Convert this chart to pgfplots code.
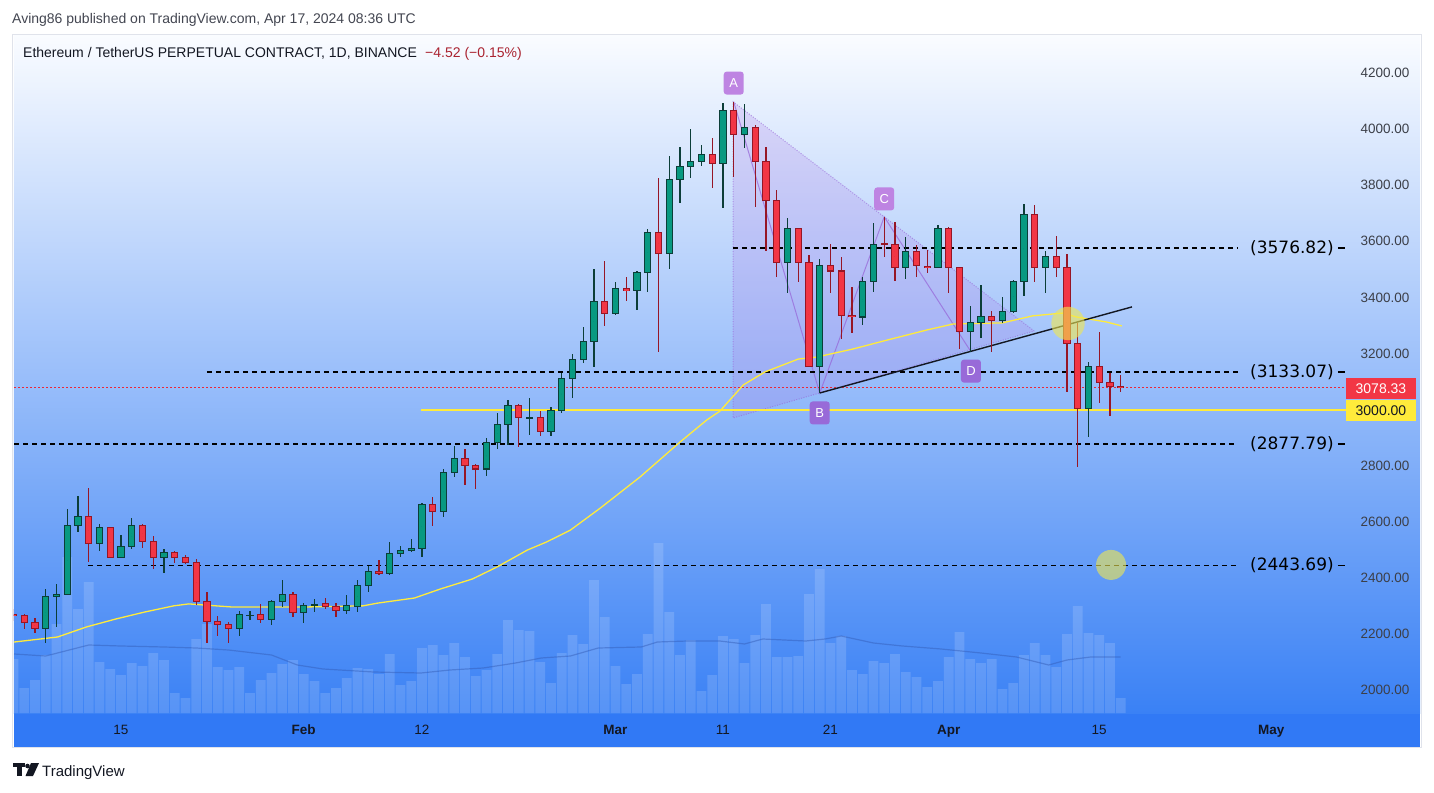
\documentclass[border=0pt]{standalone}
\usepackage{pgfplots}
\pgfplotsset{compat=1.18}
\usepackage{pgfplotstable}
\usepackage{fontspec}
\setmainfont{Liberation Sans}
\newfontfamily\dejavu{DejaVu Sans}
\pgfdeclarelayer{background}
\pgfsetlayers{background,main}

\definecolor{gfill}{RGB}{8,153,129}
\definecolor{gline}{RGB}{12,62,56}
\definecolor{rfill}{RGB}{242,54,69}
\definecolor{rline}{RGB}{150,22,38}
\definecolor{bgtop}{RGB}{250,252,255}
\definecolor{bgbot}{RGB}{58,129,245}
\definecolor{band}{RGB}{49,121,245}
\definecolor{maY}{RGB}{255,235,59}
\definecolor{tvtext}{RGB}{19,23,34}
\definecolor{tickc}{RGB}{60,63,72}
\definecolor{purA}{RGB}{190,132,226}
\definecolor{purB}{RGB}{152,106,216}
\definecolor{purL}{RGB}{150,100,215}
\definecolor{purF}{RGB}{170,120,230}
\definecolor{vma}{RGB}{50,90,180}
\definecolor{chg}{RGB}{170,35,48}
\definecolor{hdr}{RGB}{67,70,81}
\definecolor{circY}{RGB}{240,232,80}
\definecolor{framec}{RGB}{224,227,235}
\definecolor{dotred}{RGB}{235,40,55}

% day index: 1 Jan 2024 = 0 ; rising candles
\pgfplotstableread{
d o h l c
7 2221 2360 2168 2332
8 2332 2378 2225 2342
9 2342 2645 2340 2585
10 2585 2692 2563 2617
12 2521 2592 2496 2578
14 2474 2553 2470 2510
15 2510 2613 2503 2585
18 2471 2503 2417 2492
25 2218 2282 2193 2268
26 2266 2282 2250 2267
28 2253 2321 2232 2317
29 2314 2392 2296 2342
31 2278 2310 2239 2303
32 2302 2324 2278 2304
35 2285 2339 2271 2300
36 2296 2392 2278 2371
37 2371 2442 2349 2424
39 2417 2528 2410 2485
40 2485 2514 2474 2499
41 2499 2538 2492 2506
42 2506 2667 2474 2660
44 2638 2788 2617 2774
45 2774 2870 2760 2824
48 2788 2899 2763 2881
49 2881 2988 2859 2945
50 2945 3034 2874 3016
52 2969 3041 2909 2971
54 2923 3009 2906 2995
55 2995 3130 2988 3112
56 3112 3198 3041 3177
57 3177 3294 3166 3244
58 3244 3501 3152 3387
60 3341 3455 3338 3433
62 3423 3494 3355 3490
63 3490 3644 3419 3630
65 3555 3904 3501 3822
66 3822 3936 3736 3868
67 3868 4000 3826 3886
68 3886 3943 3868 3908
70 3879 4093 3719 4068
72 3982 4089 3933 4007
76 3523 3683 3416 3644
79 3155 3537 3059 3515
83 3330 3473 3301 3455
84 3455 3665 3419 3590
87 3505 3615 3465 3562
90 3508 3658 3506 3647
93 3280 3369 3205 3312
94 3312 3444 3255 3330
96 3319 3401 3309 3351
97 3351 3462 3344 3455
98 3455 3733 3405 3697
100 3508 3565 3416 3547
104 3005 3170 2902 3152
}\upc

% falling candles
\pgfplotstableread{
d o h l c
4 2268 2290 2245 2264
5 2264 2271 2218 2239
6 2239 2257 2203 2221
11 2617 2720 2456 2521
13 2578 2580 2472 2474
16 2585 2592 2506 2531
17 2531 2549 2431 2471
19 2492 2497 2453 2471
20 2471 2481 2450 2456
21 2456 2467 2303 2314
22 2314 2349 2168 2243
23 2243 2264 2193 2232
24 2235 2243 2168 2218
27 2268 2307 2239 2253
30 2342 2349 2260 2278
33 2307 2328 2289 2296
34 2296 2310 2260 2285
38 2424 2464 2410 2417
43 2660 2688 2585 2638
46 2824 2859 2731 2802
47 2802 2806 2717 2788
51 3016 3020 2866 2970
53 2970 2995 2906 2923
59 3387 3530 3298 3341
61 3430 3473 3387 3423
64 3630 3826 3205 3555
69 3908 3968 3790 3879
71 4068 4097 3829 3982
73 4007 4015 3722 3883
74 3883 3936 3565 3744
75 3744 3783 3473 3523
77 3644 3647 3455 3523
78 3523 3551 3152 3155
80 3515 3590 3416 3494
81 3494 3544 3252 3334
82 3337 3437 3273 3330
85 3591 3687 3544 3589
86 3587 3669 3458 3505
88 3562 3587 3473 3512
89 3510 3569 3487 3506
91 3647 3650 3416 3505
92 3505 3508 3216 3280
95 3330 3351 3205 3319
99 3697 3729 3455 3508
101 3547 3619 3473 3505
102 3505 3555 3063 3237
103 3237 3309 2795 3005
105 3152 3277 3023 3098
106 3098 3130 2977 3081
107 3083 3123 3063 3078.33
}\dnc

% volume (relative units)
\pgfplotstableread{
d v
4 54
5 25
6 33
7 58
8 89
9 156
10 104
11 131
12 51
13 44
14 38
15 50
16 47
17 60
18 53
19 20
20 15
21 74
22 89
23 46
24 43
25 46
26 20
27 33
28 40
29 49
30 53
31 39
32 32
33 20
34 25
35 35
36 45
37 44
38 39
39 59
40 28
41 32
42 65
43 68
44 58
45 70
46 56
47 37
48 43
49 59
50 93
51 83
52 82
53 51
54 30
55 60
56 78
57 69
58 133
59 96
60 47
61 29
62 39
63 79
64 170
65 101
66 58
67 73
68 22
69 38
70 77
71 74
72 50
73 78
74 109
75 56
76 56
77 57
78 119
79 144
80 70
81 77
82 43
83 39
84 52
85 50
86 59
87 41
88 36
89 26
90 32
91 56
92 81
93 54
94 50
95 54
96 24
97 30
98 58
99 70
100 58
101 46
102 79
103 107
104 80
105 78
106 70
107 15
}\vol

\pgfplotstableread{
d v
4.05 59
7 57
11 68
14 67
18 66
21 65
24 63
28 58
30.4 48
32.8 44
37.5 41
41.9 40
44.6 43
47.7 45
50.7 50
53.1 55
55.8 57
58.4 65
62.4 66
63.9 71
66.7 72
69.7 72
72 69
73.7 74
77.7 72
79.5 74
81 77
84 70
86.7 67
90.3 64
94 60
97.3 56
100.3 48
102 53
104.2 56
107 56
}\vma

\pgfplotstableread{
d p
4.05 2171
8.1 2189
10.8 2225
13.5 2253
16.2 2278
18.9 2300
20.3 2307
24.3 2296
31.1 2296
36.5 2300
37.9 2310
41.3 2328
43.7 2360
46.7 2396
49.0 2439
51.8 2499
53.6 2528
55.8 2570
58.6 2649
62.3 2760
66.0 2884
68.5 2963
69.7 2994
71.9 3088
73.9 3134
77.0 3180
78.7 3187
82.1 3216
85.3 3248
89.0 3284
91.4 3305
96.0 3309
98.8 3334
101.6 3344
102.9 3330
105.7 3312
107.1 3298
}\ma

\pgfplotsset{
  cndl/.style 2 args={only marks, mark=*, mark size=0pt, mark options={draw=none, fill=none},
    error bars/.cd, y dir=both, y explicit, error mark=none,
    error bar style={solid, draw=#1, line width=#2}},
}

\begin{document}
\begin{tikzpicture}[x=1pt,y=1pt]
\begin{axis}[
  scale only axis,
  width=1406pt, height=678pt,
  xmin=4.047, xmax=134.84, ymin=1918, ymax=4335.5,
  axis line style={draw=none}, major tick length=0pt,
  axis background/.style={shade, top color=bgtop, bottom color=bgbot},
  xtick={14,31,42,60,70,80,91,105,121},
  xticklabels={15,\textbf{Feb},12,\textbf{Mar},11,21,\textbf{Apr},15,\textbf{May}},
  xticklabel style={anchor=base, yshift=-21.5pt, font=\fontsize{13.5}{14}\selectfont, text=tvtext},
  ytick={2000,2200,2400,2600,2800,3200,3400,3600,3800,4000,4200},
  yticklabel pos=right,
  scaled y ticks=false,
  yticklabel style={anchor=east, xshift=-7pt, font=\fontsize{13.5}{14}\selectfont, text=tickc,
    /pgf/number format/fixed, /pgf/number format/fixed zerofill,
    /pgf/number format/precision=2, /pgf/number format/1000 sep={}},
  /pgf/number format/assume math mode=true,
]
\coordinate (O) at (rel axis cs:0,0);
% volume: bar heights in relative units, 1 unit = 3.5656 price units on this axis
\addplot[ybar, bar width=9.6pt, fill=white, fill opacity=0.15, draw=none] table[x=d, y expr={1918+3.5656*\thisrow{v}}]{\vol};
\addplot[vma, line width=1.2pt, opacity=0.45] table[x=d, y expr={1918+3.5656*\thisrow{v}}]{\vma};

% triangle pattern
\addplot[fill=purF, fill opacity=0.22, draw=none] coordinates {(70.95,4097) (70.95,2970) (98.95,3280)} -- cycle;
\addplot[purL, line width=1pt, dash pattern=on 1pt off 1.5pt, opacity=0.6] coordinates {(98.95,3280) (70.95,4097) (70.95,2970) (98.95,3280)};
\addplot[purL, line width=1pt, opacity=0.7] coordinates {(71,4097) (79,3059) (85,3687) (93,3210)};

% levels
\addplot[black, line width=1.5pt, dash pattern=on 5pt off 4pt] coordinates {(70.93,3576.82) (117.9,3576.82)};
\addplot[black, line width=1.5pt, dash pattern=on 5pt off 4pt] coordinates {(22.0,3133.07) (117.9,3133.07)};
\addplot[black, line width=1.5pt, dash pattern=on 5pt off 4pt] coordinates {(4.05,2877.79) (117.9,2877.79)};
\addplot[black, line width=1.5pt, dash pattern=on 5pt off 4pt] coordinates {(10.93,2443.69) (117.9,2443.69)};
\addplot[black, line width=1.5pt] coordinates {(127.2,3576.82) (127.9,3576.82)};
\addplot[black, line width=1.5pt] coordinates {(127.2,3133.07) (127.9,3133.07)};
\addplot[black, line width=1.5pt] coordinates {(127.2,2877.79) (127.9,2877.79)};
\addplot[black, line width=1.5pt] coordinates {(127.2,2443.69) (127.9,2443.69)};
\addplot[dotred, line width=1.2pt, dash pattern=on 2pt off 2pt] coordinates {(4.05,3078.33) (127.95,3078.33)};
\addplot[maY, line width=2pt] coordinates {(41.9,3000) (127.95,3000)};

% moving average
\addplot[maY, line width=1.3pt] table[x=d,y=p]{\ma};

% trend line
\addplot[tvtext, line width=1.4pt] coordinates {(79,3059) (108.05,3366)};

% candles: wicks
\addplot[cndl={gline}{1.2pt}] table[x=d, y expr={(\thisrow{h}+\thisrow{l})/2}, y error expr={(\thisrow{h}-\thisrow{l})/2}]{\upc};
\addplot[cndl={rline}{1.2pt}] table[x=d, y expr={(\thisrow{h}+\thisrow{l})/2}, y error expr={(\thisrow{h}-\thisrow{l})/2}]{\dnc};
% bodies: outline
\addplot[cndl={gline}{7.4pt}] table[x=d, y expr={(\thisrow{o}+\thisrow{c})/2}, y error expr={abs(\thisrow{c}-\thisrow{o})/2+1.8}]{\upc};
\addplot[cndl={rline}{7.4pt}] table[x=d, y expr={(\thisrow{o}+\thisrow{c})/2}, y error expr={abs(\thisrow{c}-\thisrow{o})/2+1.8}]{\dnc};
% bodies: fill
\addplot[cndl={gfill}{5.4pt}] table[x=d, y expr={(\thisrow{o}+\thisrow{c})/2}, y error expr={max(abs(\thisrow{c}-\thisrow{o})/2-1.8,0)}]{\upc};
\addplot[cndl={rfill}{5.4pt}] table[x=d, y expr={(\thisrow{o}+\thisrow{c})/2}, y error expr={max(abs(\thisrow{c}-\thisrow{o})/2-1.8,0)}]{\dnc};

% highlight circles
\fill[circY, opacity=0.6] (axis cs:102.1,3307) circle[radius=16.7pt];
\fill[circY, opacity=0.6] (axis cs:106.1,2446) circle[radius=15pt];

% pattern labels
\node[fill=purA, rounded corners=3pt, text=white, minimum width=20pt, minimum height=23pt, inner sep=0pt, font=\fontsize{13}{13}\selectfont] at (axis cs:71,4164) {A};
\node[fill=purB, rounded corners=3pt, text=white, minimum width=20pt, minimum height=23pt, inner sep=0pt, font=\fontsize{13}{13}\selectfont] at (axis cs:79,2988) {B};
\node[fill=purA, rounded corners=3pt, text=white, minimum width=20pt, minimum height=23pt, inner sep=0pt, font=\fontsize{13}{13}\selectfont] at (axis cs:85,3751) {C};
\node[fill=purB, rounded corners=3pt, text=white, minimum width=20pt, minimum height=23pt, inner sep=0pt, font=\fontsize{13}{13}\selectfont] at (axis cs:93.07,3137) {D};

% level labels
\node[font=\dejavu\fontsize{17}{17}\selectfont, text=black] at (axis cs:122.93,3576.82) {(3576.82)};
\node[font=\dejavu\fontsize{17}{17}\selectfont, text=black] at (axis cs:122.93,3133.07) {(3133.07)};
\node[font=\dejavu\fontsize{17}{17}\selectfont, text=black] at (axis cs:122.93,2877.79) {(2877.79)};
\node[font=\dejavu\fontsize{17}{17}\selectfont, text=black] at (axis cs:122.93,2443.69) {(2443.69)};

% price tags
\node[fill=rfill, text=white, minimum width=70pt, minimum height=21pt, inner sep=0pt, font=\fontsize{14}{14}\selectfont] at (axis cs:131.21,3075) {3078.33};
\node[fill=maY, text=tvtext, minimum width=70pt, minimum height=21pt, inner sep=0pt, font=\fontsize{14}{14}\selectfont] at (axis cs:131.21,2997) {3000.00};
\end{axis}

% everything else is placed from the axis' lower left corner (O), which is at (14,79) in page pixels
\begin{scope}[shift={(O)}, xshift=-14pt, yshift=-79pt]
\begin{pgfonlayer}{background}
\fill[white] (0,0) rectangle (1434,792);
\fill[band] (14,45) rectangle (1420,79);
\end{pgfonlayer}
% frame
\draw[framec, line width=1pt] (12.5,44.5) rectangle (1421.5,757.5);
% header
\node[anchor=base west, inner sep=0pt, font=\fontsize{14}{16}\selectfont, text=hdr] at (12,768) {Aving86 published on TradingView.com, Apr 17, 2024 08:36 UTC};
\node[anchor=base west, inner sep=0pt, font=\fontsize{14}{16}\selectfont, text=tvtext] at (23,734) {Ethereum / TetherUS PERPETUAL CONTRACT, 1D, BINANCE};
\node[anchor=base west, inner sep=0pt, font=\fontsize{14}{16}\selectfont, text=chg] at (425,734) {−4.52 (−0.15\%)};
% TradingView logo
\fill[tvtext] (13,25) rectangle (25,29);
\fill[tvtext] (17,16) rectangle (21.5,29);
\fill[tvtext] (27.5,26) circle[radius=2.3];
\fill[tvtext] (31,29) -- (39,29) -- (33,16) -- (25.5,16) -- cycle;
\node[anchor=base west, inner sep=0pt, font=\fontsize{15}{16}\selectfont, text=tvtext] at (42,16) {TradingView};
\pgfresetboundingbox
\path[use as bounding box] (0,0) rectangle (1434,792);
\end{scope}
\end{tikzpicture}
\end{document}
